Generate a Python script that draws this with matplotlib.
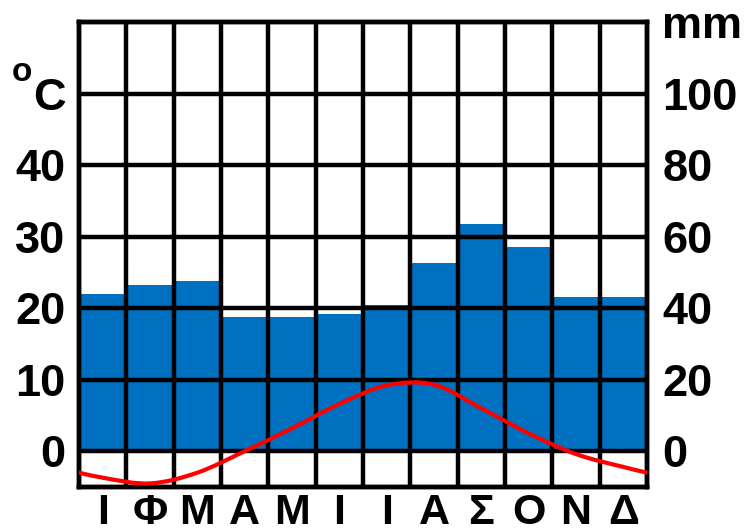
import matplotlib
matplotlib.use("Agg")
import matplotlib.pyplot as plt
from matplotlib.path import Path
from matplotlib.patches import PathPatch
import numpy as np

months = ["Ι", "Φ", "Μ", "Α", "Μ", "Ι", "Ι", "Α", "Σ", "Ο", "Ν", "Δ"]
precip_mm = [44, 46.5, 47.5, 37.5, 37.5, 38.5, 41, 52.5, 63.5, 57, 43, 43]
temp_c = [-3.7, -4.5, -3.0, 0.0, 3.2, 6.6, 9.2, 9.3, 6.0, 2.5, -0.4, -2.2]
left_ticks = [0, 10, 20, 30, 40, 50]
left_labels = ["0", "10", "20", "30", "40", "C"]
right_ticks = [0, 20, 40, 60, 80, 100, 120]
right_labels = ["0", "20", "40", "60", "80", "100", "mm"]

plt.rcParams['font.family'] = ['Liberation Sans', 'DejaVu Sans']
plt.rcParams['font.weight'] = 'bold'

BLUE = "#0070C0"
fig = plt.figure(figsize=(7.47, 5.31), dpi=100)
ax = fig.add_axes([0.1058, 0.0829, 0.7603, 0.8757])
axt = ax.twinx()
n = len(months)
x = np.arange(n) + 0.5

# precipitation axis (right)
ax.bar(x, precip_mm, width=1.0, color=BLUE, edgecolor='none', zorder=1)
ax.set_xlim(0, n)
ax.set_ylim(-10, 120)
ax.set_yticks(right_ticks)
ax.set_yticklabels(right_labels, fontsize=32.5, fontweight='bold')
ax.yaxis.tick_right()
ax.yaxis.set_label_position('right')
ax.set_xticks(x)
ax.set_xticklabels(months, fontsize=31, fontweight='bold')
ax.tick_params(axis='both', length=0)
ax.tick_params(axis='y', pad=11, labelright=True, labelleft=False)
ax.tick_params(axis='x', pad=4)

# temperature axis (left)
axt.set_ylim(-5, 60)
axt.set_xlim(0, n)
axt.set_yticks(left_ticks)
axt.set_yticklabels(left_labels, fontsize=32.5, fontweight='bold')
axt.yaxis.tick_left()
axt.yaxis.set_label_position('left')
axt.tick_params(axis='y', length=0, pad=10, labelleft=True, labelright=False)

for y in left_ticks:
    axt.axhline(y, color='black', lw=3.2, zorder=2)
for xv in range(1, n):
    axt.axvline(xv, color='black', lw=3.2, zorder=2)
for a in (ax, axt):
    for s in a.spines.values():
        s.set_linewidth(3.2)
        s.set_color('black')

# smooth periodic curve (Catmull-Rom as cubic Bezier segments)
xs = np.concatenate([[x[0] - 2, x[0] - 1], x, [x[-1] + 1, x[-1] + 2]])
ys = np.concatenate([[temp_c[-2], temp_c[-1]], temp_c, [temp_c[0], temp_c[1]]])
verts = [(xs[1], ys[1])]
codes = [Path.MOVETO]
for i in range(1, len(xs) - 2):
    p0 = np.array([xs[i - 1], ys[i - 1]])
    p1 = np.array([xs[i], ys[i]])
    p2 = np.array([xs[i + 1], ys[i + 1]])
    p3 = np.array([xs[i + 2], ys[i + 2]])
    b1 = p1 + (p2 - p0) / 6
    b2 = p2 - (p3 - p1) / 6
    verts += [tuple(b1), tuple(b2), tuple(p2)]
    codes += [Path.CURVE4] * 3
patch = PathPatch(Path(verts, codes), fill=False, edgecolor='red', lw=3, zorder=3)
axt.add_patch(patch)

fig.text(0.0288, 0.8635, "o", fontsize=24, fontweight='bold', ha='center', va='center')

fig.savefig("out.png", dpi=100)
